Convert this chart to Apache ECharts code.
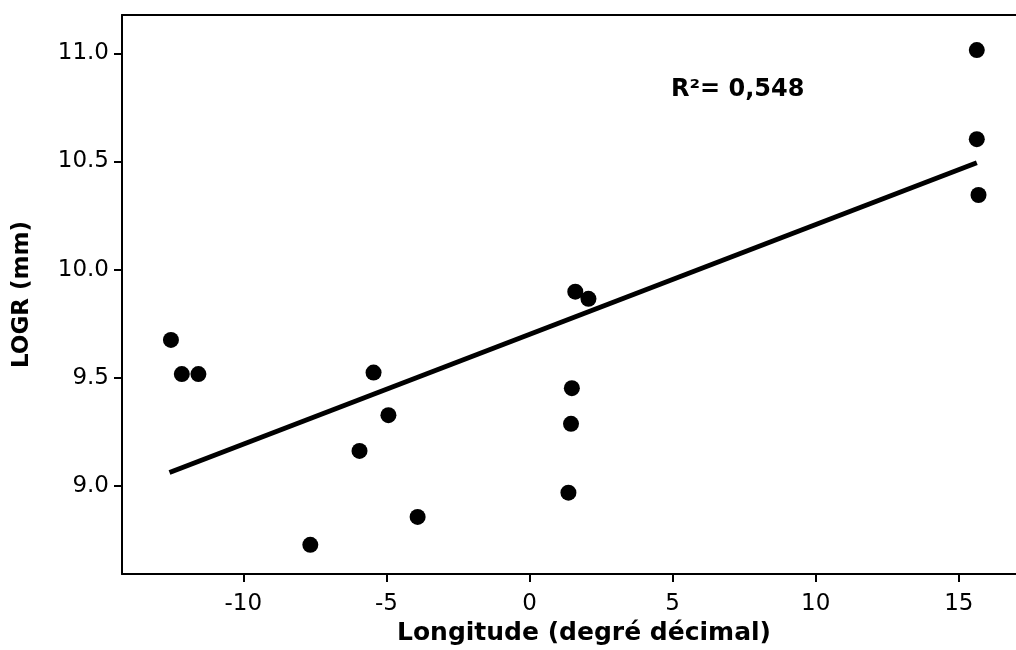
<!DOCTYPE html>
<html>
<head>
<meta charset="utf-8">
<script src="https://cdn.jsdelivr.net/npm/echarts@6/dist/echarts.min.js"></script>
<style>
    html, body { margin: 0; padding: 0; background: #fff; }
    #chart { width: 1016px; height: 650px; }
</style>
</head>
<body>
<div id="chart"></div>
<script>
// points
var longitude = [-12.53, -12.15, -11.57, -7.66, -5.45, -4.93, -5.94, -3.91,
                 1.60, 2.06, 1.48, 1.45, 1.36, 15.63, 15.63, 15.69];
var logr = [9.675, 9.517, 9.517, 8.728, 9.524, 9.327, 9.162, 8.857,
            9.898, 9.865, 9.452, 9.287, 8.969, 11.015, 10.603, 10.345];

// regression line ends
var fit_x = [-12.58, 15.63];
var fit_y = [9.062, 10.494];

var x_ticks = [-10, -5, 0, 5, 10, 15];
var y_ticks = [9.0, 9.5, 10.0, 10.5, 11.0];
var r2_text = 'R²= 0,548';

var font = 'DejaVu Sans';
var x_min = -14.24, x_max = 17.0;

var points = longitude.map(function (v, i) { return [v, logr[i]]; });
var fit = fit_x.map(function (v, i) { return [v, fit_y[i]]; });

var chart = echarts.init(document.getElementById('chart'));
var option = {
    animation: false,
    grid: {
        left: 122,
        right: 0,
        top: 15,
        bottom: 76,
        outerBoundsMode: 'none'
    },
    xAxis: [{
        type: 'value',
        min: x_min,
        max: x_max,
        name: 'Longitude (degré décimal)',
        nameLocation: 'middle',
        nameGap: 41,
        nameTextStyle: { fontFamily: font, fontWeight: 'bold', fontSize: 25, color: '#000', padding: [0, 0, 0, 30] },
        axisLine: { onZero: false, lineStyle: { color: '#000', width: 2 } },
        axisTick: { show: true, length: 8, customValues: x_ticks, lineStyle: { color: '#000', width: 2 } },
        axisLabel: {
            customValues: x_ticks,
            margin: 19,
            fontFamily: font,
            fontSize: 23,
            color: '#000'
        },
        splitLine: { show: false }
    }, {
        // top frame line only
        type: 'value',
        position: 'top',
        min: x_min,
        max: x_max,
        axisLine: { onZero: false, lineStyle: { color: '#000', width: 2 } },
        axisTick: { show: false },
        axisLabel: { show: false },
        splitLine: { show: false }
    }],
    yAxis: {
        type: 'value',
        min: 8.593,
        max: 11.177,
        name: 'LOGR (mm)',
        nameLocation: 'middle',
        nameGap: 88,
        nameRotate: 90,
        nameTextStyle: { fontFamily: font, fontWeight: 'bold', fontSize: 23, color: '#000' },
        axisLine: { onZero: false, lineStyle: { color: '#000', width: 2 } },
        axisTick: { show: true, length: 8, customValues: y_ticks, lineStyle: { color: '#000', width: 2 } },
        axisLabel: {
            customValues: y_ticks,
            margin: 13,
            fontFamily: font,
            fontSize: 23,
            color: '#000',
            formatter: function (v) { return v.toFixed(1); }
        },
        splitLine: { show: false }
    },
    graphic: [{
        type: 'text',
        left: 671,
        top: 78,
        style: {
            text: r2_text,
            fontFamily: font,
            fontWeight: 'bold',
            fontSize: 24,
            fill: '#000'
        }
    }],
    series: [
        {
            type: 'line',
            data: fit,
            symbol: 'none',
            lineStyle: { color: '#000', width: 5 },
            z: 2
        },
        {
            type: 'scatter',
            data: points,
            symbol: 'circle',
            symbolSize: 16,
            itemStyle: { color: '#000', opacity: 1 },
            z: 3
        }
    ]
};
chart.setOption(option);
</script>
</body>
</html>
